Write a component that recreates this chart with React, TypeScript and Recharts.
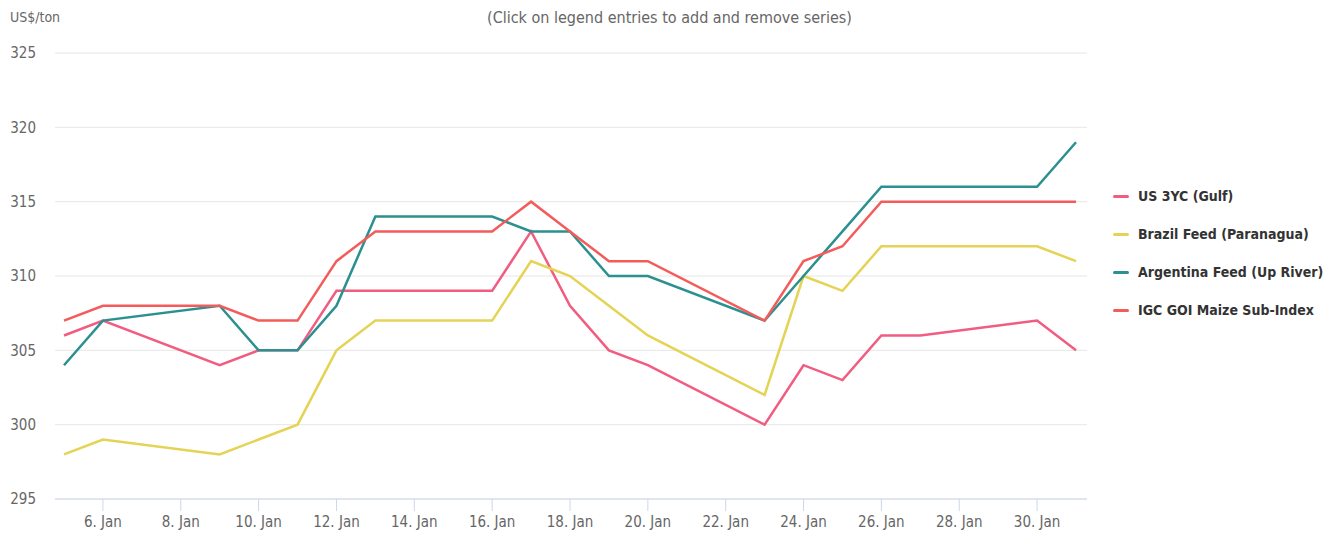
import { LineChart, Line, CartesianGrid, XAxis, YAxis, Legend } from "recharts";

const days = [5, 6, 9, 10, 11, 12, 13, 16, 17, 18, 19, 20, 23, 24, 25, 26, 27, 30, 31];
const us3yc = [306, 307, 304, 305, 305, 309, 309, 309, 313, 308, 305, 304, 300, 304, 303, 306, 306, 307, 305];
const brazil = [298, 299, 298, 299, 300, 305, 307, 307, 311, 310, 308, 306, 302, 310, 309, 312, 312, 312, 311];
const argentina = [304, 307, 308, 305, 305, 308, 314, 314, 313, 313, 310, 310, 307, 310, 313, 316, 316, 316, 319];
const igc = [307, 308, 308, 307, 307, 311, 313, 313, 315, 313, 311, 311, 307, 311, 312, 315, 315, 315, 315];

const xTicks = [6, 8, 10, 12, 14, 16, 18, 20, 22, 24, 26, 28, 30];
const yTicks = [295, 300, 305, 310, 315, 320, 325];

const series = [
    { key: "us3yc", name: "US 3YC (Gulf)", color: "#f15c80" },
    { key: "brazil", name: "Brazil Feed (Paranagua)", color: "#e4d354" },
    { key: "argentina", name: "Argentina Feed (Up River)", color: "#2b908f" },
    { key: "igc", name: "IGC GOI Maize Sub-Index", color: "#f45b5b" },
];

const data = days.map((day, i) => ({
    day,
    us3yc: us3yc[i],
    brazil: brazil[i],
    argentina: argentina[i],
    igc: igc[i],
}));

const font = '"DejaVu Sans Condensed", "DejaVu Sans", sans-serif';

const LegendBox = () => (
    <div style={{ fontFamily: font }}>
        {series.map((s) => (
            <div
                key={s.key}
                style={{ display: "flex", alignItems: "center", height: 38 }}
            >
                <div
                    style={{
                        width: 16,
                        height: 3,
                        background: s.color,
                        borderRadius: 2,
                        marginRight: 9,
                    }}
                />
                <span style={{ fontSize: 14, fontWeight: "bold", color: "#333" }}>
                    {s.name}
                </span>
            </div>
        ))}
    </div>
);

export default function App() {
    return (
        <div
            style={{
                position: "absolute",
                left: 0,
                top: 0,
                width: 1339,
                height: 533,
                background: "#fff",
                fontFamily: font,
            }}
        >
            <div
                style={{
                    position: "absolute",
                    left: 10,
                    top: 9,
                    fontSize: 14,
                    color: "#666",
                }}
            >
                US$/ton
            </div>
            <div
                style={{
                    position: "absolute",
                    left: 0,
                    width: 1339,
                    top: 8,
                    textAlign: "center",
                    fontSize: 16,
                    color: "#666",
                }}
            >
                (Click on legend entries to add and remove series)
            </div>
            <LineChart
                width={1339}
                height={533}
                data={data}
                margin={{ top: 53, right: 252, bottom: 0, left: 0 }}
            >
                <CartesianGrid stroke="#e6e6e6" vertical={false} />
                <XAxis
                    dataKey="day"
                    type="number"
                    domain={[5, 31]}
                    ticks={xTicks}
                    tickFormatter={(d) => `${d}. Jan`}
                    padding={{ left: 9, right: 11 }}
                    height={34}
                    stroke="#ccd6eb"
                    tickSize={12}
                    tickMargin={5}
                    tick={{ fill: "#666", fontSize: 15 }}
                />
                <YAxis
                    domain={[295, 325]}
                    ticks={yTicks}
                    width={55}
                    axisLine={false}
                    tickLine={false}
                    tickSize={0}
                    tickMargin={19}
                    tick={{ fill: "#666", fontSize: 15 }}
                />
                <Legend
                    layout="vertical"
                    align="center"
                    verticalAlign="middle"
                    content={<LegendBox />}
                    wrapperStyle={{ left: 1113, top: 177, width: 226 }}
                />
                {series.map((s) => (
                    <Line
                        key={s.key}
                        type="linear"
                        dataKey={s.key}
                        name={s.name}
                        stroke={s.color}
                        strokeWidth={2.5}
                        dot={false}
                        activeDot={false}
                        isAnimationActive={false}
                    />
                ))}
            </LineChart>
        </div>
    );
}
